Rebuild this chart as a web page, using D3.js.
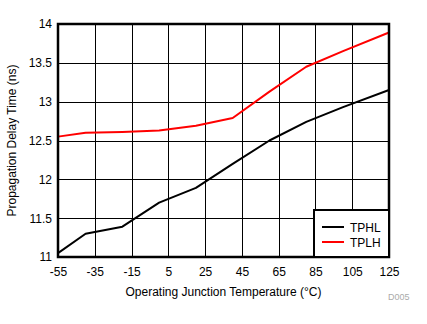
<!DOCTYPE html>
<html><head><meta charset="utf-8">
<script src="https://cdn.jsdelivr.net/npm/d3@7"></script>
<style>body{margin:0;background:#fff}svg text{font-family:"Liberation Sans",Arial,sans-serif}</style>
</head><body><svg id="c" width="427" height="324"></svg>
<script>
const temps = [-55, -40, -20, 0, 20, 40, 60, 80, 100, 125];
const tphl = [11.05, 11.30, 11.39, 11.70, 11.89, 12.20, 12.50, 12.74, 12.93, 13.15];
const tplh = [12.55, 12.60, 12.61, 12.63, 12.69, 12.79, 13.13, 13.45, 13.65, 13.89];
const xTicks = [-55, -35, -15, 5, 25, 45, 65, 85, 105, 125];
const yTicks = [11, 11.5, 12, 12.5, 13, 13.5, 14];
const seriesNames = ["TPHL", "TPLH"];
const seriesColors = ["#000000", "#ff0000"];

const svg = d3.select("#c");
const L = 58, R = 389, T = 24, B = 257;
const x = d3.scaleLinear().domain([-55, 125]).range([L, R]);
const y = d3.scaleLinear().domain([11, 14]).range([B, T]);

svg.append("g").selectAll("line").data(xTicks).join("line")
  .attr("x1", d => Math.round(x(d)) + 0.5).attr("x2", d => Math.round(x(d)) + 0.5)
  .attr("y1", T).attr("y2", B).attr("stroke", "#000").attr("stroke-width", 1);
svg.append("g").selectAll("line").data(yTicks).join("line")
  .attr("y1", d => Math.round(y(d)) + 0.5).attr("y2", d => Math.round(y(d)) + 0.5)
  .attr("x1", L).attr("x2", R).attr("stroke", "#000").attr("stroke-width", 1);

const xa = svg.append("g").attr("transform", `translate(0,${B})`)
  .call(d3.axisBottom(x).tickValues(xTicks).tickSize(0).tickPadding(10).tickFormat(d => String(d)));
xa.select(".domain").remove();
xa.selectAll("text").attr("font-size", 12).attr("fill", "#000").style("font-family", '"Liberation Sans",Arial,sans-serif');
const ya = svg.append("g").attr("transform", `translate(${L},0)`)
  .call(d3.axisLeft(y).tickValues(yTicks).tickSize(0).tickPadding(6).tickFormat(d => String(d)));
ya.select(".domain").remove();
ya.selectAll("text").attr("font-size", 12).attr("fill", "#000").style("font-family", '"Liberation Sans",Arial,sans-serif');

const line = d3.line().x((d, i) => x(temps[i])).y(d => y(d));
[tphl, tplh].forEach((s, k) => {
  svg.append("path").datum(s).attr("d", line).attr("fill", "none")
    .attr("stroke", seriesColors[k]).attr("stroke-width", 2).attr("stroke-linejoin", "round");
});

svg.append("rect").attr("x", L).attr("y", T).attr("width", R - L).attr("height", B - T)
  .attr("fill", "none").attr("stroke", "#000").attr("stroke-width", 2.5);

const lg = svg.append("g");
lg.append("rect").attr("x", 314).attr("y", 210).attr("width", R - 314).attr("height", B - 210)
  .attr("fill", "#fff").attr("stroke", "#000").attr("stroke-width", 2);
seriesNames.forEach((n, i) => {
  const yy = 227 + i * 15;
  lg.append("line").attr("x1", 322).attr("x2", 344).attr("y1", yy).attr("y2", yy)
    .attr("stroke", seriesColors[i]).attr("stroke-width", 2);
  lg.append("text").attr("x", 350).attr("y", yy + 4.5).attr("font-size", 12).text(n);
});

svg.append("text").attr("x", (L + R) / 2).attr("y", 296).attr("text-anchor", "middle")
  .attr("font-size", 12).text("Operating Junction Temperature (°C)");
svg.append("text").attr("transform", `translate(16,${(T + B) / 2}) rotate(-90)`)
  .attr("text-anchor", "middle").attr("font-size", 12).text("Propagation Delay Time (ns)");
svg.append("text").attr("x", 388).attr("y", 300).attr("font-size", 9).attr("fill", "#aaa").text("D005");
</script></body></html>
